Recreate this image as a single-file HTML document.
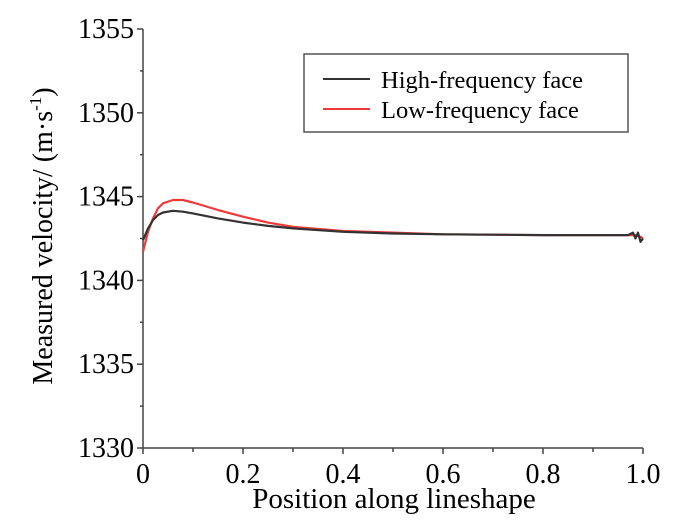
<!DOCTYPE html>
<html><head><meta charset="utf-8"><style>
body{margin:0;background:#fff}
svg{display:block;font-family:"Liberation Serif",serif}
</style></head><body>
<svg id="chart" width="700" height="531" viewBox="0 0 700 531">
<g id="axes"></g>
<g id="series"></g>
<g>
<rect x="304" y="54" width="324" height="78" fill="#fff" stroke="#555" stroke-width="1.5"/>
<line x1="323" y1="79" x2="370" y2="79" stroke="#333" stroke-width="2"/>
<text x="381" y="88" font-size="24.5">High-frequency face</text>
<line x1="323" y1="109" x2="370" y2="109" stroke="#f03a3a" stroke-width="2"/>
<text x="381" y="118" font-size="24.5">Low-frequency face</text>
</g>
<text x="394" y="508" font-size="29" text-anchor="middle">Position along lineshape</text>
<text transform="translate(52,236) rotate(-90)" font-size="28" text-anchor="middle">Measured velocity/ (m·s<tspan font-size="17" dy="-11">-1</tspan><tspan dy="11">)</tspan></text>
</svg>
<script>
const xTicks=[0,0.2,0.4,0.6,0.8,1.0];
const xTickLabels=["0","0.2","0.4","0.6","0.8","1.0"];
const yTicks=[1330,1335,1340,1345,1350,1355];
const positions=[0,0.01,0.02,0.03,0.04,0.06,0.08,0.1,0.15,0.2,0.25,0.3,0.4,0.5,0.6,0.8,0.97,0.98,0.985,0.99,0.995,1.0];
const highValues=[1342.4,1343.1,1343.6,1343.9,1344.05,1344.15,1344.1,1344.0,1343.7,1343.45,1343.25,1343.1,1342.9,1342.8,1342.75,1342.7,1342.7,1342.85,1342.5,1342.85,1342.3,1342.5];
const lowValues=[1341.7,1342.9,1343.7,1344.3,1344.6,1344.8,1344.8,1344.65,1344.2,1343.8,1343.45,1343.2,1342.95,1342.85,1342.75,1342.7,1342.7,1342.7,1342.7,1342.65,1342.6,1342.5];
const ns="http://www.w3.org/2000/svg";
const X0=143,X1=643,Y0=448,Y1=29;
function sx(v){return X0+(v-0)/(1-0)*(X1-X0);}
function sy(v){return Y0-(v-1330)/(1355-1330)*(Y0-Y1);}
function mk(t,a,p){const e=document.createElementNS(ns,t);for(const k in a)e.setAttribute(k,a[k]);p.appendChild(e);return e;}
const ax=document.getElementById('axes');
let l=mk('line',{x1:X0,y1:Y1,x2:X0,y2:Y0,stroke:'#444','stroke-width':1.5},ax);


l=mk('line',{x1:X0,y1:Y0,x2:X1,y2:Y0,stroke:'#444','stroke-width':1.5},ax);


yTicks.forEach((v,i)=>{
 const y=sy(v);
 let t=mk('line',{x1:X0-6,y1:y,x2:X0,y2:y,stroke:'#444','stroke-width':1.5},ax);
 
 
 if(i<yTicks.length-1){let m=mk('line',{x1:X0-3,y1:sy(v+2.5),x2:X0,y2:sy(v+2.5),stroke:'#444','stroke-width':1.5},ax);
 
 }
 let tx=mk('text',{x:X0-9,y:y+9,'font-size':28,'text-anchor':'end'},ax);tx.textContent=v;
 
 
});
xTicks.forEach((v,i)=>{
 const x=sx(v);
 let t=mk('line',{x1:x,y1:Y0,x2:x,y2:Y0+6,stroke:'#444','stroke-width':1.5},ax);
 
 
 if(i<xTicks.length-1){let m=mk('line',{x1:sx(v+0.1),y1:Y0,x2:sx(v+0.1),y2:Y0+4,stroke:'#444','stroke-width':1.5},ax);
 
 }
 let tx=mk('text',{x:x,y:Y0+35,'font-size':28,'text-anchor':'middle'},ax);tx.textContent=xTickLabels[i];
 
 
});
const sg=document.getElementById('series');
function line(vals,color,name){
 const d=positions.map((p,i)=>(i?'L':'M')+sx(p).toFixed(1)+','+sy(vals[i]).toFixed(1)).join(' ');
 const e=mk('path',{d:d,fill:'none',stroke:color,'stroke-width':2.2,'stroke-linejoin':'round'},sg);
 
 
}
line(lowValues,'#f03a3a','low-frequency-line');
line(highValues,'#333','high-frequency-line');
</script>
</body></html>
